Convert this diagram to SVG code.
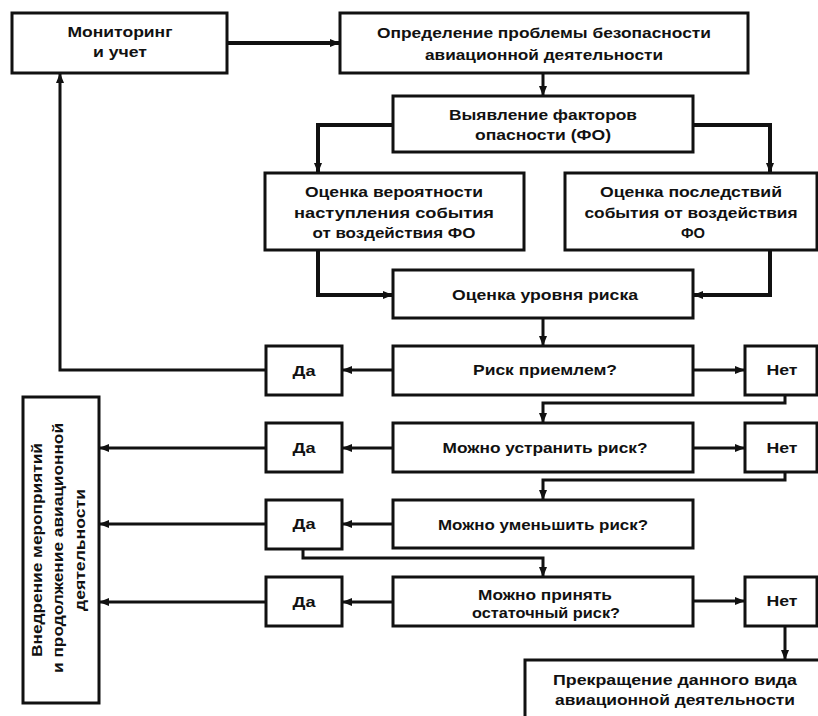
<svg xmlns="http://www.w3.org/2000/svg" width="818" height="716" viewBox="0 0 818 716">
<style>
.box{fill:#fff;stroke:#111;stroke-width:3}
.t{font-family:"Liberation Sans",Arial,sans-serif;font-weight:bold;font-size:14px;fill:#111;text-anchor:middle}
.c{fill:none;stroke:#111;stroke-width:3}
.ck{fill:none;stroke:#111;stroke-width:4}
</style>
<defs>
<marker id="a" markerUnits="userSpaceOnUse" markerWidth="10" markerHeight="8" refX="10" refY="4" orient="auto">
<path d="M0,0 L10,4 L0,8 z" fill="#111"/>
</marker>
</defs>
<rect width="818" height="716" fill="#fff"/>
<g id="connectors">
<path class="ck" d="M227,43 H340" marker-end="url(#a)"/>
<path class="c" d="M543,73 V96" marker-end="url(#a)"/>
<path class="ck" d="M393,125 H318 V173" marker-end="url(#a)"/>
<path class="ck" d="M693,125 H770 V173" marker-end="url(#a)"/>
<path class="ck" d="M318,250 V295 H393" marker-end="url(#a)"/>
<path class="ck" d="M770,250 V295 H693" marker-end="url(#a)"/>
<path class="c" d="M543,318 V346" marker-end="url(#a)"/>
<path class="c" d="M393,370 H342" marker-end="url(#a)"/>
<path class="c" d="M266,370 H60 V73" marker-end="url(#a)"/>
<path class="c" d="M693,370 H745" marker-end="url(#a)"/>
<path class="c" d="M785,395 V403 H543 V423" marker-end="url(#a)"/>
<path class="c" d="M393,448 H342" marker-end="url(#a)"/>
<path class="c" d="M266,448 H99" marker-end="url(#a)"/>
<path class="c" d="M693,448 H745" marker-end="url(#a)"/>
<path class="c" d="M785,472 V480 H543 V500" marker-end="url(#a)"/>
<path class="c" d="M393,524 H342" marker-end="url(#a)"/>
<path class="c" d="M266,524 H99" marker-end="url(#a)"/>
<path class="c" d="M303,549 V558 H543 V577" marker-end="url(#a)"/>
<path class="c" d="M393,602 H342" marker-end="url(#a)"/>
<path class="c" d="M266,602 H99" marker-end="url(#a)"/>
<path class="c" d="M693,601 H745" marker-end="url(#a)"/>
<path class="c" d="M785,626 V660" marker-end="url(#a)"/>
</g>
<g id="monitoring">
<rect class="box" x="12" y="13" width="215" height="60"/>
<text class="t" x="120" y="37" textLength="105" lengthAdjust="spacingAndGlyphs">Мониторинг</text>
<text class="t" x="120" y="57" textLength="54" lengthAdjust="spacingAndGlyphs">и учет</text>
</g>
<g id="problem">
<rect class="box" x="340" y="13" width="408" height="60"/>
<text class="t" x="544" y="38" textLength="334" lengthAdjust="spacingAndGlyphs">Определение проблемы безопасности</text>
<text class="t" x="544" y="60" textLength="238" lengthAdjust="spacingAndGlyphs">авиационной деятельности</text>
</g>
<g id="hazards">
<rect class="box" x="393" y="96" width="300" height="56"/>
<text class="t" x="543" y="120" textLength="188" lengthAdjust="spacingAndGlyphs">Выявление факторов</text>
<text class="t" x="543" y="140" textLength="136" lengthAdjust="spacingAndGlyphs">опасности (ФО)</text>
</g>
<g id="probability">
<rect class="box" x="265" y="173" width="259" height="77"/>
<text class="t" x="394" y="197" textLength="178" lengthAdjust="spacingAndGlyphs">Оценка вероятности</text>
<text class="t" x="394" y="218" textLength="200" lengthAdjust="spacingAndGlyphs">наступления события</text>
<text class="t" x="394" y="238" textLength="163" lengthAdjust="spacingAndGlyphs">от воздействия ФО</text>
</g>
<g id="consequences">
<rect class="box" x="565" y="173" width="252" height="77"/>
<text class="t" x="691" y="197" textLength="182" lengthAdjust="spacingAndGlyphs">Оценка последствий</text>
<text class="t" x="691" y="218" textLength="213" lengthAdjust="spacingAndGlyphs">события от воздействия</text>
<text class="t" x="693" y="238" textLength="24" lengthAdjust="spacingAndGlyphs">ФО</text>
</g>
<g id="risklevel">
<rect class="box" x="393" y="270" width="300" height="48"/>
<text class="t" x="545" y="300" textLength="186" lengthAdjust="spacingAndGlyphs">Оценка уровня риска</text>
</g>
<g id="acceptable">
<rect class="box" x="393" y="346" width="300" height="49"/>
<text class="t" x="545" y="375" textLength="144" lengthAdjust="spacingAndGlyphs">Риск приемлем?</text>
</g>
<g id="yes1">
<rect class="box" x="266" y="346" width="76" height="49"/>
<text class="t" x="304" y="376" textLength="23" lengthAdjust="spacingAndGlyphs">Да</text>
</g>
<g id="no1">
<rect class="box" x="745" y="346" width="72" height="49"/>
<text class="t" x="782" y="375" textLength="31" lengthAdjust="spacingAndGlyphs">Нет</text>
</g>
<g id="eliminate">
<rect class="box" x="393" y="423" width="300" height="49"/>
<text class="t" x="545" y="453" textLength="205" lengthAdjust="spacingAndGlyphs">Можно устранить риск?</text>
</g>
<g id="yes2">
<rect class="box" x="266" y="423" width="76" height="49"/>
<text class="t" x="304" y="453" textLength="23" lengthAdjust="spacingAndGlyphs">Да</text>
</g>
<g id="no2">
<rect class="box" x="745" y="423" width="72" height="49"/>
<text class="t" x="782" y="453" textLength="31" lengthAdjust="spacingAndGlyphs">Нет</text>
</g>
<g id="reduce">
<rect class="box" x="393" y="500" width="300" height="48"/>
<text class="t" x="543" y="530" textLength="210" lengthAdjust="spacingAndGlyphs">Можно уменьшить риск?</text>
</g>
<g id="yes3">
<rect class="box" x="266" y="500" width="76" height="49"/>
<text class="t" x="304" y="529" textLength="23" lengthAdjust="spacingAndGlyphs">Да</text>
</g>
<g id="residual">
<rect class="box" x="393" y="577" width="300" height="49"/>
<text class="t" x="545" y="600" textLength="134" lengthAdjust="spacingAndGlyphs">Можно принять</text>
<text class="t" x="546" y="618" textLength="148" lengthAdjust="spacingAndGlyphs">остаточный риск?</text>
</g>
<g id="yes4">
<rect class="box" x="266" y="577" width="76" height="49"/>
<text class="t" x="304" y="607" textLength="23" lengthAdjust="spacingAndGlyphs">Да</text>
</g>
<g id="no3">
<rect class="box" x="745" y="577" width="72" height="49"/>
<text class="t" x="782" y="606" textLength="31" lengthAdjust="spacingAndGlyphs">Нет</text>
</g>
<g id="terminate">
<rect class="box" x="525" y="660" width="300" height="70"/>
<text class="t" x="675" y="685" textLength="244" lengthAdjust="spacingAndGlyphs">Прекращение данного вида</text>
<text class="t" x="675" y="705" textLength="240" lengthAdjust="spacingAndGlyphs">авиационной деятельности</text>
</g>
<g id="implement">
<rect class="box" x="23" y="397" width="76" height="306"/>
<text class="t" transform="translate(42,550) rotate(-90)" textLength="214" lengthAdjust="spacingAndGlyphs">Внедрение мероприятий</text>
<text class="t" transform="translate(63,548) rotate(-90)" textLength="250" lengthAdjust="spacingAndGlyphs">и продолжение авиационной</text>
<text class="t" transform="translate(85,550) rotate(-90)" textLength="122" lengthAdjust="spacingAndGlyphs">деятельности</text>
</g>
</svg>
